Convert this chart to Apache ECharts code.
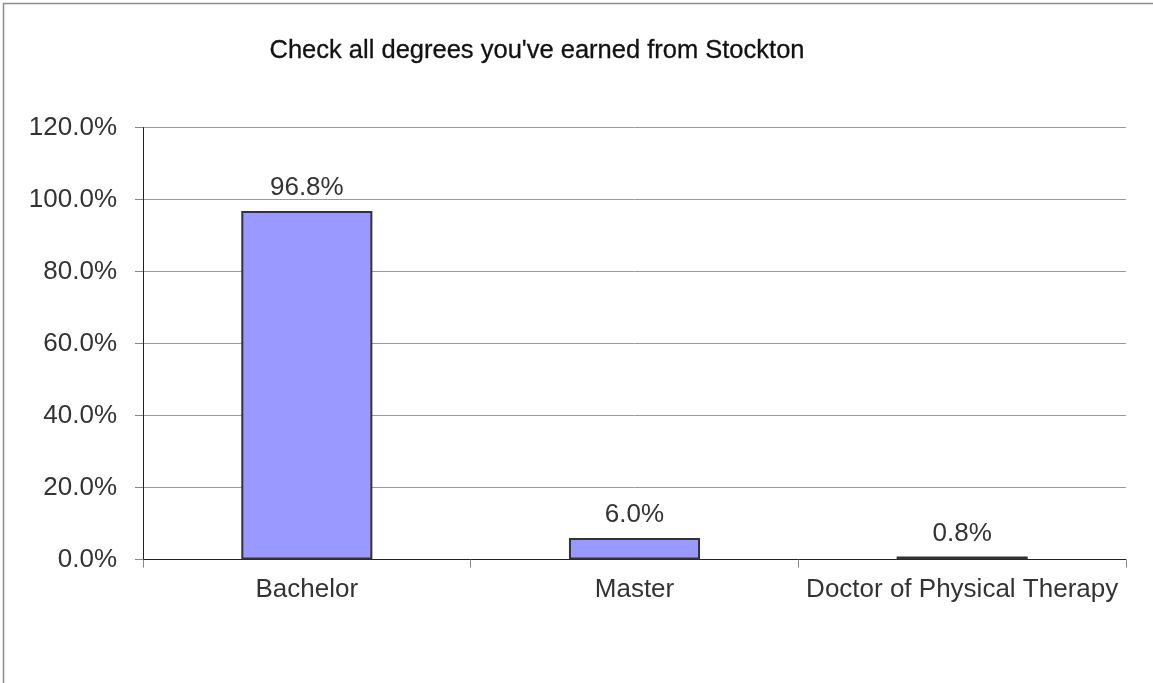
<!DOCTYPE html>
<html>
<head>
<meta charset="utf-8">
<script src="https://cdn.jsdelivr.net/npm/echarts@6/dist/echarts.min.js"></script>
<style>
html,body{margin:0;padding:0;background:#fff;}
#c{width:1153px;height:683px;}
</style>
</head>
<body>
<div id="c"></div>
<script>
const categories = ["Bachelor", "Master", "Doctor of Physical Therapy"];
const values = [96.8, 6.0, 0.8];
const titleText = "Check all degrees you've earned from Stockton";

const chart = echarts.init(document.getElementById('c'), null, {renderer: 'canvas'});
const font = 'Liberation Sans, Arial, sans-serif';
chart.setOption({
  animation: false,
  backgroundColor: '#fff',
  graphic: [{
    type: 'rect',
    shape: {x: 3.5, y: 3.5, width: 1160, height: 690},
    style: {fill: 'none', stroke: '#8c8c8c', lineWidth: 1.5},
    silent: true
  }],
  title: {
    text: titleText,
    left: 532,
    textAlign: 'center',
    top: 33,
    textStyle: {fontFamily: font, fontSize: 25.5, fontWeight: 'normal', color: '#111',
      textBorderColor: '#111', textBorderWidth: 0.3}
  },
  grid: {left: 143, right: 27, top: 127.5, bottom: 123.5, containLabel: false},
  xAxis: {
    type: 'category',
    data: categories,
    axisLine: {lineStyle: {color: '#222', width: 1}},
    axisTick: {show: true, length: 8, alignWithLabel: false, lineStyle: {color: '#888'}},
    axisLabel: {interval: 0, hideOverlap: false, fontFamily: font, fontSize: 26, color: '#333', margin: 17}
  },
  yAxis: {
    type: 'value',
    min: 0,
    max: 120,
    interval: 20,
    axisLine: {show: true, lineStyle: {color: '#222', width: 1}},
    axisTick: {show: true, length: 8, lineStyle: {color: '#888'}},
    axisLabel: {fontFamily: font, fontSize: 26, color: '#333', margin: 26,
      formatter: v => v.toFixed(1) + '%'},
    splitLine: {lineStyle: {color: '#999', width: 1}}
  },
  series: [{
    type: 'bar',
    data: values,
    barWidth: '40%',
    itemStyle: {color: '#9999ff', borderColor: '#333', borderWidth: 2},
    label: {show: true, position: 'top', distance: 10, fontFamily: font, fontSize: 26, color: '#333',
      formatter: p => p.value.toFixed(1) + '%'}
  }]
});
</script>
</body>
</html>
